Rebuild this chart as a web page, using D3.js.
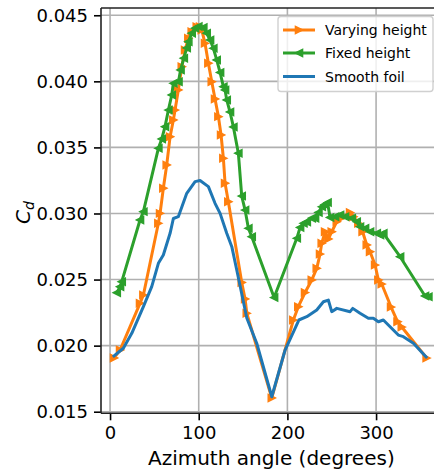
<!DOCTYPE html>
<html>
<head>
<meta charset="utf-8">
<script src="https://cdn.jsdelivr.net/npm/d3@7"></script>
<style>
  html, body { margin: 0; padding: 0; background: #fff; }
  svg { display: block; font-family: "DejaVu Sans", sans-serif; }
</style>
</head>
<body>
<svg id="chart" width="434" height="473"></svg>
<script>
// Drag coefficient over one revolution, three foil configurations
const varyingAngle = [4.5, 11.3, 33.8, 37.6, 54.5, 56.4, 60.1, 63.9, 67.7, 71.4, 73.3, 77.0, 80.9, 84.6, 88.3, 92.1, 97.8, 101.5, 103.4, 107.1, 110.9, 114.7, 118.4, 122.2, 125.2, 127.8, 129.7, 133.4, 148.5, 152.3, 154.2, 182.4, 206.7, 212.3, 219.9, 227.5, 233.1, 236.8, 238.7, 242.5, 246.2, 250.0, 255.7, 262.2, 270.7, 274.4, 280.0, 284.8, 289.5, 293.2, 298.9, 302.6, 306.4, 316.9, 324.2, 329.0, 357.0];
const varyingCd = [0.01907, 0.01967, 0.02320, 0.02383, 0.02926, 0.03001, 0.03191, 0.03367, 0.03581, 0.03708, 0.03783, 0.03935, 0.04111, 0.04237, 0.04326, 0.04376, 0.04414, 0.04414, 0.04389, 0.04288, 0.04137, 0.03997, 0.03867, 0.03733, 0.03594, 0.03418, 0.03229, 0.03089, 0.02478, 0.02353, 0.02245, 0.01604, 0.02194, 0.02295, 0.02402, 0.02497, 0.02585, 0.02693, 0.02774, 0.02862, 0.02807, 0.02862, 0.02938, 0.02970, 0.03007, 0.02976, 0.02926, 0.02862, 0.02762, 0.02711, 0.02610, 0.02497, 0.02466, 0.02292, 0.02181, 0.02141, 0.01906];

const fixedAngle = [7.6, 11.3, 13.2, 33.8, 37.6, 54.5, 58.3, 62.0, 65.8, 69.6, 71.4, 77.2, 79.5, 83.2, 86.5, 88.3, 92.1, 95.9, 99.6, 105.2, 109.0, 112.8, 116.5, 120.3, 124.1, 127.8, 129.7, 131.6, 135.3, 139.1, 144.7, 148.5, 152.3, 156.0, 159.8, 185.0, 210.6, 214.3, 218.1, 221.9, 227.5, 231.2, 235.0, 238.8, 241.9, 245.3, 248.1, 253.8, 259.4, 265.0, 272.6, 278.2, 281.9, 287.6, 293.2, 300.8, 304.5, 308.2, 327.1, 355.2, 359.0];
const fixedCd = [0.02401, 0.02446, 0.02484, 0.02951, 0.03014, 0.03493, 0.03564, 0.03657, 0.03783, 0.03897, 0.03985, 0.03997, 0.04086, 0.04175, 0.04253, 0.04300, 0.04364, 0.04402, 0.04415, 0.04408, 0.04364, 0.04313, 0.04250, 0.04162, 0.04067, 0.03960, 0.03935, 0.03859, 0.03768, 0.03655, 0.03456, 0.03132, 0.03026, 0.02888, 0.02824, 0.02364, 0.02812, 0.02894, 0.02926, 0.02936, 0.02964, 0.02964, 0.03008, 0.03051, 0.03068, 0.03083, 0.02970, 0.02976, 0.02989, 0.02976, 0.02964, 0.02938, 0.02900, 0.02888, 0.02862, 0.02850, 0.02837, 0.02850, 0.02673, 0.02376, 0.02370];

const smoothAngle = [4.5, 15.0, 24.5, 37.6, 47.0, 54.5, 60.1, 67.7, 71.4, 77.0, 86.5, 95.9, 101.5, 110.9, 118.4, 124.1, 131.6, 137.3, 142.9, 154.2, 165.4, 182.4, 197.4, 212.9, 221.8, 233.1, 240.6, 246.2, 250.0, 255.7, 270.7, 273.7, 281.9, 291.3, 296.9, 302.6, 308.2, 315.8, 325.1, 330.8, 342.1, 356.4];
const smoothCd = [0.01922, 0.01980, 0.02093, 0.02295, 0.02446, 0.02623, 0.02686, 0.02850, 0.02962, 0.02976, 0.03153, 0.03241, 0.03250, 0.03203, 0.03077, 0.03001, 0.02850, 0.02749, 0.02572, 0.02209, 0.02018, 0.01613, 0.01967, 0.02194, 0.02219, 0.02270, 0.02332, 0.02345, 0.02257, 0.02282, 0.02257, 0.02282, 0.02245, 0.02207, 0.02207, 0.02181, 0.02194, 0.02143, 0.02080, 0.02068, 0.02018, 0.01914];

const xTicks = [0, 100, 200, 300];
const yTicks = [0.015, 0.020, 0.025, 0.030, 0.035, 0.040, 0.045];
const seriesNames = ["Varying height", "Fixed height", "Smooth foil"];

const svg = d3.select("#chart");
const plotL = 101, plotR = 441.7, plotT = 8, plotB = 413.3;

const x = d3.scaleLinear().domain([-10.2, 374]).range([plotL, plotR]);
const y = d3.scaleLinear().domain([0.01488, 0.04555]).range([plotB, plotT]);

svg.append("defs").append("clipPath").attr("id", "plot-clip")
  .append("rect").attr("x", plotL).attr("y", plotT)
  .attr("width", plotR - plotL).attr("height", plotB - plotT);

// grid
const grid = svg.append("g");
grid.selectAll("line.gx").data(xTicks).join("line").attr("class", "gx")
  .attr("x1", d => x(d)).attr("x2", d => x(d))
  .attr("y1", plotT).attr("y2", plotB)
  .attr("stroke", "#b0b0b0").attr("stroke-width", 1.6);
grid.selectAll("line.gy").data(yTicks).join("line").attr("class", "gy")
  .attr("x1", plotL).attr("x2", plotR)
  .attr("y1", d => y(d)).attr("y2", d => y(d))
  .attr("stroke", "#b0b0b0").attr("stroke-width", 1.6);

const series = [
  { name: seriesNames[0], angle: varyingAngle, cd: varyingCd, color: "#ff7f0e", marker: "right" },
  { name: seriesNames[1], angle: fixedAngle, cd: fixedCd, color: "#2ca02c", marker: "left" },
  { name: seriesNames[2], angle: smoothAngle, cd: smoothCd, color: "#1f77b4", marker: null }
];

const ms = 3.6;
const markerPath = {
  right: `M${ms},0L${-ms},${-ms}L${-ms},${ms}Z`,
  left: `M${-ms},0L${ms},${-ms}L${ms},${ms}Z`
};

const line = d3.line().x(d => x(d[0])).y(d => y(d[1]));
const plot = svg.append("g").attr("clip-path", "url(#plot-clip)");

series.forEach(sr => {
  const pts = sr.angle.map((a, i) => [a, sr.cd[i]]);
  plot.append("path").datum(pts)
    .attr("d", line)
    .attr("fill", "none")
    .attr("stroke", sr.color)
    .attr("stroke-width", 3)
    .attr("stroke-linejoin", "round")
    .attr("stroke-linecap", "square");
  if (sr.marker) {
    plot.append("g").selectAll("path").data(pts).join("path")
      .attr("transform", d => `translate(${x(d[0])},${y(d[1])})`)
      .attr("d", markerPath[sr.marker])
      .attr("fill", sr.color)
      .attr("stroke", sr.color)
      .attr("stroke-width", 1.4)
      .attr("stroke-linejoin", "miter");
  }
});

// axes
const xAxis = d3.axisBottom(x).tickValues(xTicks).tickSize(7).tickPadding(6)
  .tickFormat(d3.format("d"));
const gx = svg.append("g").attr("transform", `translate(0,${plotB})`).call(xAxis);
gx.select(".domain").remove();
gx.selectAll(".tick line").attr("stroke", "#000").attr("stroke-width", 1.6);
gx.selectAll(".tick text").attr("font-size", 18).attr("fill", "#000")
  .attr("font-family", "DejaVu Sans");

const yAxis = d3.axisLeft(y).tickValues(yTicks).tickSize(7).tickPadding(6)
  .tickFormat(d3.format(".3f"));
const gy = svg.append("g").attr("transform", `translate(${plotL},0)`).call(yAxis);
gy.select(".domain").remove();
gy.selectAll(".tick line").attr("stroke", "#000").attr("stroke-width", 1.6);
gy.selectAll(".tick text").attr("font-size", 18).attr("fill", "#000")
  .attr("font-family", "DejaVu Sans");

// spines
const spines = svg.append("g").attr("stroke", "#222").attr("stroke-width", 1.6);
spines.append("line").attr("x1", plotL).attr("x2", plotL).attr("y1", plotT).attr("y2", plotB);
spines.append("line").attr("x1", plotL).attr("x2", plotR).attr("y1", plotB).attr("y2", plotB);
spines.append("line").attr("x1", plotL).attr("x2", plotR).attr("y1", plotT).attr("y2", plotT);
spines.append("line").attr("x1", plotR).attr("x2", plotR).attr("y1", plotT).attr("y2", plotB);

// axis titles
svg.append("text")
  .attr("x", (plotL + plotR) / 2).attr("y", 465)
  .attr("text-anchor", "middle").attr("font-size", 20).attr("fill", "#000")
  .text("Azimuth angle (degrees)");

const yl = svg.append("text")
  .attr("transform", "translate(30,212.5) rotate(-90)")
  .attr("text-anchor", "middle").attr("font-size", 20).attr("fill", "#000")
  .attr("font-style", "italic");
yl.append("tspan").text("C");
yl.append("tspan").attr("font-size", 14).attr("dy", 4).text("d");

// legend
const lg = svg.append("g");
lg.append("rect")
  .attr("x", 278).attr("y", 16.5).attr("width", 155).attr("height", 75)
  .attr("rx", 3).attr("fill", "#fff").attr("fill-opacity", 0.8)
  .attr("stroke", "#d0d0d0").attr("stroke-width", 1.4);
const rowY = [30, 53, 76.5];
series.forEach((sr, i) => {
  const row = lg.append("g").attr("transform", `translate(0,${rowY[i]})`);
  row.append("line").attr("x1", 283).attr("x2", 315).attr("y1", 0).attr("y2", 0)
    .attr("stroke", sr.color).attr("stroke-width", 3);
  if (sr.marker) {
    row.append("path").attr("transform", "translate(299,0)")
      .attr("d", markerPath[sr.marker])
      .attr("fill", sr.color).attr("stroke", sr.color).attr("stroke-width", 1.4);
  }
  row.append("text").attr("x", 325).attr("y", 0).attr("dy", "0.36em")
    .attr("font-size", 14).attr("fill", "#000").text(sr.name);
});
</script>
</body>
</html>
